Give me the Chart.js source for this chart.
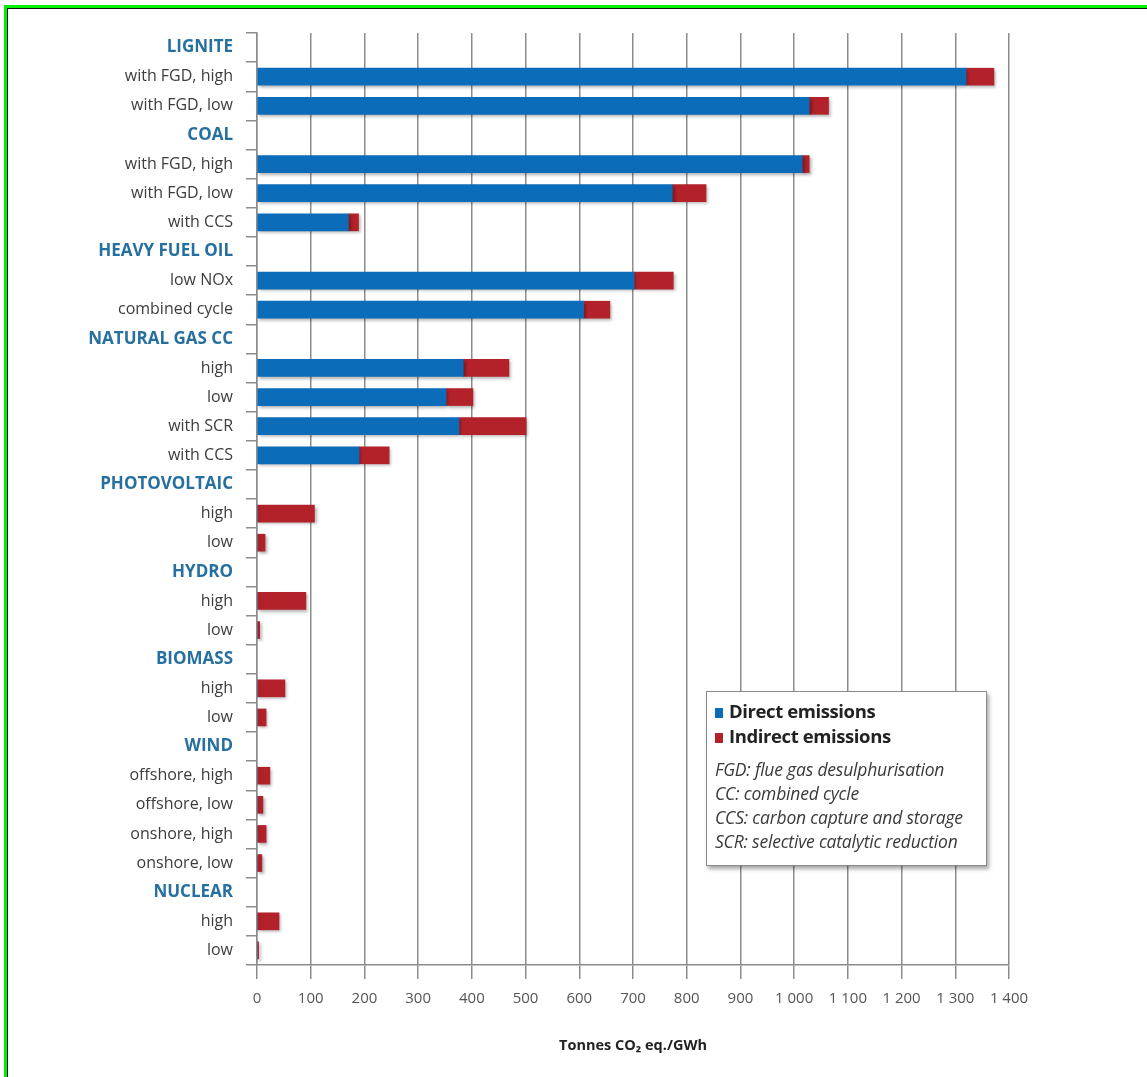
<!DOCTYPE html>
<html>
<head>
<meta charset="utf-8">
<script src="https://cdn.jsdelivr.net/npm/chart.js@4/dist/chart.umd.min.js"></script>
<style>
    html, body { margin: 0; padding: 0; background: #fff; }
    #wrap { position: relative; width: 1147px; height: 1077px; overflow: hidden; }
    #green {
        position: absolute; left: 4px; top: 5px; width: 1200px; height: 1200px;
        border-top: 3px solid #00f000; border-left: 3px solid #00f000;
    }
    #black {
        position: absolute; left: 7px; top: 8px; width: 1200px; height: 1200px;
        border-top: 1px solid #111; border-left: 1px solid #111;
    }
    canvas { position: absolute; left: 0; top: 0; }
    #legend {
        position: absolute; left: 706px; top: 691px; width: 281px; height: 175px;
        box-sizing: border-box; border: 1px solid #8a8a8a; background: #fff;
        box-shadow: 2px 3px 4px rgba(0,0,0,0.35);
        font-family: "Open Sans", sans-serif; color: #333;
        padding: 6px 0 0 8px;
    }
    .item { font-weight: bold; font-size: 18.5px; height: 25px; line-height: 25px; color: #222; letter-spacing: -0.4px; }
    .sw { display: inline-block; width: 8px; height: 10px; margin-right: 6px; }
    .notes { margin-top: 9px; font-style: italic; font-size: 17.5px; line-height: 24px; letter-spacing: -0.2px; color: #3a3a3a; white-space: nowrap; }
</style>
</head>
<body>
<div id="wrap">
    <div id="green"></div>
    <div id="black"></div>
    <canvas id="c" width="1147" height="1077"></canvas>
    <div id="legend"></div>
</div>
<script>
// rangées : les en-têtes de groupe n'ont pas de valeur
const labels = [
    'LIGNITE', 'with FGD, high', 'with FGD, low',
    'COAL', 'with FGD, high', 'with FGD, low', 'with CCS',
    'HEAVY FUEL OIL', 'low NOx', 'combined cycle',
    'NATURAL GAS CC', 'high', 'low', 'with SCR', 'with CCS',
    'PHOTOVOLTAIC', 'high', 'low',
    'HYDRO', 'high', 'low',
    'BIOMASS', 'high', 'low',
    'WIND', 'offshore, high', 'offshore, low', 'onshore, high', 'onshore, low',
    'NUCLEAR', 'high', 'low',
];
const headers = ['LIGNITE', 'COAL', 'HEAVY FUEL OIL', 'NATURAL GAS CC', 'PHOTOVOLTAIC',
    'HYDRO', 'BIOMASS', 'WIND', 'NUCLEAR'];

const direct = [
    null, 1320, 1028,
    null, 1015, 773, 170,
    null, 702, 608,
    null, 384, 352, 376, 190,
    null, 0, 0,
    null, 0, 0,
    null, 0, 0,
    null, 0, 0, 0, 0,
    null, 0, 0,
];
const indirect = [
    null, 52, 36,
    null, 13, 63, 19,
    null, 73, 49,
    null, 85, 50, 125, 56,
    null, 107, 15,
    null, 91, 5,
    null, 52, 17,
    null, 24, 11, 17, 9,
    null, 41, 3,
];

const seriesNames = ['Direct emissions', 'Indirect emissions'];
const seriesColors = ['#0b6cb9', '#b3222b'];
const notes = [
    'FGD: flue gas desulphurisation',
    'CC: combined cycle',
    'CCS: carbon capture and storage',
    'SCR: selective catalytic reduction',
];
const xTitle = 'Tonnes CO\u2082 eq./GWh';

const FONT = '"Open Sans", sans-serif';

// ombre légère sous les barres
const shadowPlugin = {
    id: 'barShadow',
    beforeDatasetsDraw(chart) {
        const ctx = chart.ctx;
        ctx.save();
        ctx.shadowColor = 'rgba(0,0,0,0.3)';
        ctx.shadowBlur = 3;
        ctx.shadowOffsetX = 2;
        ctx.shadowOffsetY = 2;
    },
    afterDatasetsDraw(chart) {
        chart.ctx.restore();
    },
};

new Chart(document.getElementById('c'), {
    type: 'bar',
    data: {
        labels: labels,
        datasets: [{
            label: seriesNames[0],
            data: direct,
            backgroundColor: seriesColors[0],
            barThickness: 17,
        }, {
            label: seriesNames[1],
            data: indirect,
            backgroundColor: seriesColors[1],
            barThickness: 17,
        }],
    },
    options: {
        indexAxis: 'y',
        responsive: false,
        animation: false,
        layout: { padding: { top: 33, right: 138, left: 0, bottom: 22 } },
        plugins: {
            legend: { display: false },
            tooltip: { enabled: false },
        },
        scales: {
            y: {
                stacked: true,
                afterFit: s => { s.width = 257; },
                border: { color: '#8c8c8c', width: 1.5 },
                grid: {
                    offset: true,
                    drawOnChartArea: false,
                    drawTicks: true,
                    tickLength: 11,
                    color: '#8c8c8c',
                    lineWidth: 1.5,
                },
                ticks: {
                    padding: 13,
                    autoSkip: false,
                    color: c => headers.includes(labels[c.index]) ? '#26709f' : '#3c3c3c',
                    font: c => headers.includes(labels[c.index])
                        ? { family: FONT, size: 17, weight: 'bold' }
                        : { family: FONT, size: 16 },
                },
            },
            x: {
                stacked: true,
                min: 0,
                max: 1400,
                afterFit: s => { s.height = 90; },
                border: { color: '#8c8c8c', width: 1.5 },
                grid: {
                    color: '#8c8c8c',
                    lineWidth: 1.5,
                    tickLength: 14,
                },
                ticks: {
                    stepSize: 100,
                    padding: 11,
                    color: '#555',
                    font: { family: FONT, size: 15 },
                    callback: v => v >= 1000 ? Math.floor(v / 1000) + ' ' + String(v % 1000).padStart(3, '0') : v,
                },
                title: {
                    display: true,
                    text: xTitle,
                    color: '#222',
                    font: { family: FONT, size: 14.5, weight: 'bold' },
                    padding: { top: 0, bottom: 0 },
                },
            },
        },
    },
    plugins: [shadowPlugin],
});

// légende HTML avec les notes
const leg = document.getElementById('legend');
seriesNames.forEach((n, i) => {
    const d = document.createElement('div');
    d.className = 'item';
    d.innerHTML = `<span class="sw" style="background:${seriesColors[i]}"></span>${n}`;
    leg.appendChild(d);
});
const nd = document.createElement('div');
nd.className = 'notes';
nd.innerHTML = notes.map(t => `<div>${t}</div>`).join('');
leg.appendChild(nd);
</script>
</body>
</html>
